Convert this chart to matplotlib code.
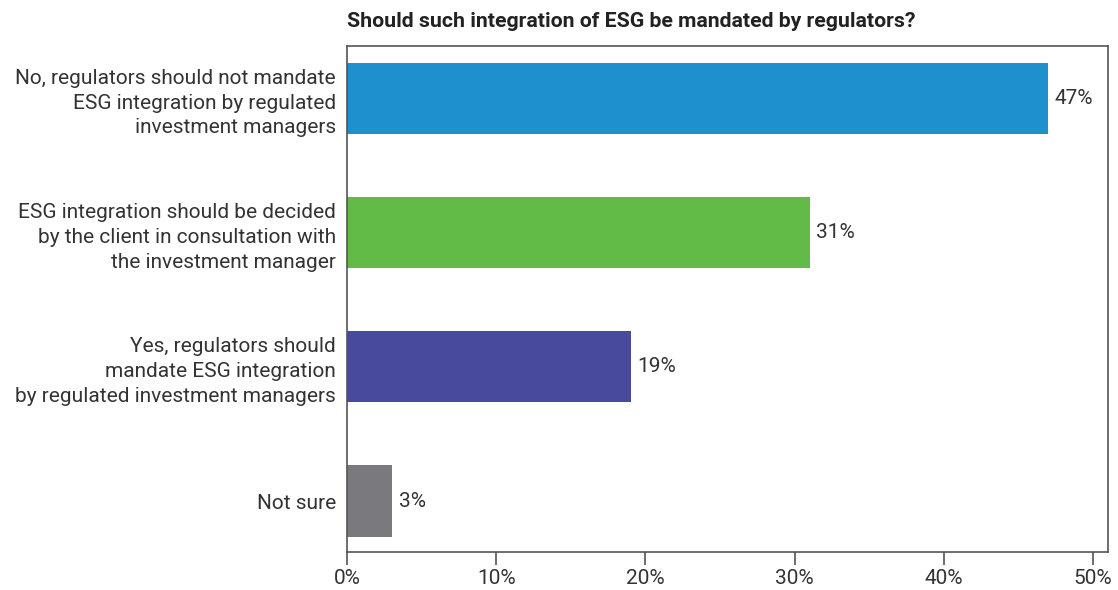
import matplotlib
matplotlib.use('Agg')
import matplotlib.pyplot as plt
from matplotlib.ticker import FuncFormatter

categories = [
    "No, regulators should not mandate\nESG integration by regulated\ninvestment managers",
    "ESG integration should be decided\nby the client in consultation with\nthe investment manager",
    "Yes, regulators should\nmandate ESG integration\nby regulated investment managers",
    "Not sure",
]
values = [47, 31, 19, 3]
colors = ["#1E90CE", "#62BB46", "#484A9E", "#7A797E"]
xticks = [0, 10, 20, 30, 40, 50]

plt.rcParams['font.family'] = ['Roboto', 'DejaVu Sans']
text_color = "#333333"
spine_color = "#555555"

fig = plt.figure(figsize=(11.18, 5.9), dpi=100)
ax = fig.add_axes([0.3104, 0.0644, 0.6806, 0.8576])

ypos = list(range(len(values)))
ax.barh(ypos, values, height=0.53, color=colors)

for y, v in zip(ypos, values):
    ax.text(v + 0.45, y, f"{v}%", va='center', ha='left', fontsize=15, color=text_color)

ax.set_yticks(ypos)
ax.set_yticklabels(categories, fontsize=15, color=text_color, linespacing=1.38)
ax.set_ylim(3.38, -0.39)
ax.set_xlim(0, 51)
ax.set_xticks(xticks)
ax.xaxis.set_major_formatter(FuncFormatter(lambda x, p: f"{x:.0f}%"))

ax.tick_params(axis='y', length=0, pad=8)
ax.tick_params(axis='x', length=9, width=1.2, color=spine_color, labelsize=15,
               labelcolor=text_color, pad=3)
for s in ax.spines.values():
    s.set_color(spine_color)
    s.set_linewidth(1.2)

ax.set_title("Should such integration of ESG be mandated by regulators?",
             loc='left', fontsize=15.3, fontweight='bold', color="#222222", pad=14)

fig.savefig("out.png", dpi=100)
